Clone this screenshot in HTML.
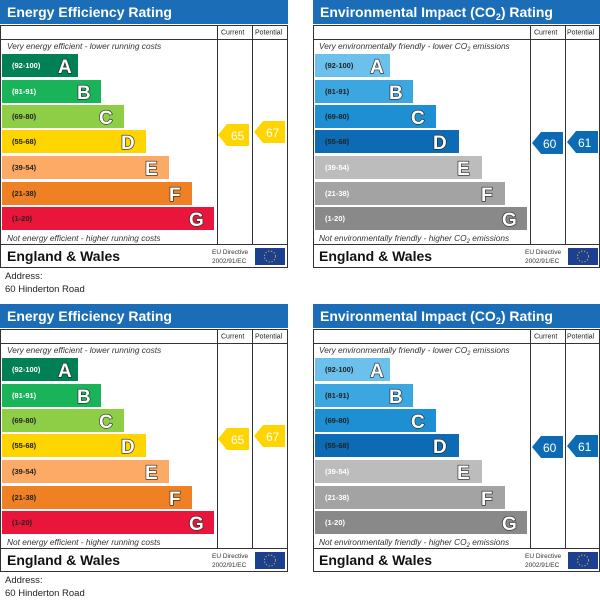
<!DOCTYPE html>
<html><head><meta charset="utf-8"><style>
html,body{margin:0;padding:0;background:#fff;width:600px;height:608px;overflow:hidden}
svg{display:block;font-family:"Liberation Sans",sans-serif}
.h{font-weight:bold;font-size:14px;fill:#fff}
.hc{font-size:7px;fill:#222}
.it{font-style:italic;font-size:8.3px;fill:#333}
.rg{font-size:7.5px;font-weight:bold;fill:#222}
.rgw{font-size:7.5px;font-weight:bold;fill:#fff}
.L{font-size:19px;font-weight:bold;fill:#fff;stroke:#222;stroke-width:1.2px;paint-order:stroke}
.ew{font-size:14px;font-weight:bold;fill:#111}
.eu{font-size:6.5px;fill:#333}
.ar{font-size:12px;fill:#fff}
.ad{font-size:9.5px;fill:#222}
</style></head><body>
<svg width="600" height="608" viewBox="0 0 600 608">
<g id="p1">
<rect x="0" y="0" width="288" height="24" fill="#1b6db7"/>
<text class="h" x="7" y="17">Energy Efficiency Rating</text>
<rect x="0.5" y="25.5" width="287" height="242" fill="none" stroke="#333"/>
<line x1="0" y1="39.5" x2="288" y2="39.5" stroke="#333"/>
<line x1="217.5" y1="25" x2="217.5" y2="244" stroke="#333"/>
<line x1="252.5" y1="25" x2="252.5" y2="244" stroke="#333"/>
<line x1="0" y1="244.5" x2="288" y2="244.5" stroke="#333"/>
<text class="hc" x="221" y="34.5">Current</text>
<text class="hc" x="255" y="34.5">Potential</text>
<text class="it" x="7" y="49">Very energy efficient - lower running costs</text>
<rect x="2" y="54" width="76" height="23" fill="#008054"/><text class="rgw" x="12" y="68">(92-100)</text><text class="L" x="58" y="73">A</text>
<rect x="2" y="80" width="99" height="23" fill="#19b459"/><text class="rgw" x="12" y="94">(81-91)</text><text class="L" x="77" y="99">B</text>
<rect x="2" y="105" width="122" height="23" fill="#8dce46"/><text class="rg" x="12" y="119">(69-80)</text><text class="L" x="99" y="124">C</text>
<rect x="2" y="130" width="144" height="23" fill="#ffd500"/><text class="rg" x="12" y="144">(55-68)</text><text class="L" x="121" y="149">D</text>
<rect x="2" y="156" width="167" height="23" fill="#fcaa65"/><text class="rg" x="12" y="170">(39-54)</text><text class="L" x="145" y="175">E</text>
<rect x="2" y="182" width="190" height="23" fill="#ef8023"/><text class="rg" x="12" y="196">(21-38)</text><text class="L" x="169" y="201">F</text>
<rect x="2" y="207" width="212" height="23" fill="#e9153b"/><text class="rg" x="12" y="221" fill="#900">(1-20)</text><text class="L" x="189" y="226">G</text>
<text class="it" x="7" y="241">Not energy efficient - higher running costs</text>
<polygon points="218,135 227,124 249,124 249,146 227,146" fill="#ffd500"/><text class="ar" x="231" y="140">65</text>
<polygon points="254,132 263,121 285,121 285,143 263,143" fill="#ffd500"/><text class="ar" x="266" y="137">67</text>
<text class="ew" x="7" y="261">England &amp; Wales</text>
<text class="eu" x="212" y="254">EU Directive</text><text class="eu" x="212" y="263">2002/91/EC</text>
<rect x="255" y="248" width="30" height="17" fill="#1d3f8f"/>
<circle cx="270" cy="256.5" r="5.5" fill="none" stroke="#ffd500" stroke-width="1" stroke-dasharray="1 2"/>
<text class="ad" x="5" y="279">Address:</text><text class="ad" x="5" y="292">60 Hinderton Road</text>
</g>
<g id="p2">
<rect x="313" y="0" width="287" height="24" fill="#1b6db7"/>
<text class="h" x="320" y="17">Environmental Impact (CO<tspan font-size="9" dy="3">2</tspan><tspan dy="-3">) Rating</tspan></text>
<rect x="313.5" y="25.5" width="286" height="242" fill="none" stroke="#333"/>
<line x1="313" y1="39.5" x2="600" y2="39.5" stroke="#333"/>
<line x1="530.5" y1="25" x2="530.5" y2="244" stroke="#333"/>
<line x1="565.5" y1="25" x2="565.5" y2="244" stroke="#333"/>
<line x1="313" y1="244.5" x2="600" y2="244.5" stroke="#333"/>
<text class="hc" x="534" y="34.5">Current</text>
<text class="hc" x="567" y="34.5">Potential</text>
<text class="it" x="319" y="49">Very environmentally friendly - lower CO<tspan font-size="6" dy="2">2</tspan><tspan dy="-2"> emissions</tspan></text>
<rect x="315" y="54" width="75" height="23" fill="#6cc0ec"/><text class="rg" x="325" y="68">(92-100)</text><text class="L" x="370" y="73">A</text>
<rect x="315" y="80" width="98" height="23" fill="#3ca6e0"/><text class="rg" x="325" y="94">(81-91)</text><text class="L" x="389" y="99">B</text>
<rect x="315" y="105" width="121" height="23" fill="#1d8fd2"/><text class="rg" x="325" y="119">(69-80)</text><text class="L" x="411" y="124">C</text>
<rect x="315" y="130" width="144" height="23" fill="#0d6bb4"/><text class="rg" x="325" y="144">(55-68)</text><text class="L" x="433" y="149">D</text>
<rect x="315" y="156" width="167" height="23" fill="#bcbcbc"/><text class="rgw" x="325" y="170">(39-54)</text><text class="L" x="457" y="175">E</text>
<rect x="315" y="182" width="190" height="23" fill="#a3a3a3"/><text class="rgw" x="325" y="196">(21-38)</text><text class="L" x="481" y="201">F</text>
<rect x="315" y="207" width="212" height="23" fill="#898989"/><text class="rgw" x="325" y="221">(1-20)</text><text class="L" x="502" y="226">G</text>
<text class="it" x="319" y="241">Not environmentally friendly - higher CO<tspan font-size="6" dy="2">2</tspan><tspan dy="-2"> emissions</tspan></text>
<polygon points="532,143 541,132 563,132 563,154 541,154" fill="#0d6bb4"/><text class="ar" x="543" y="148">60</text>
<polygon points="567,142 576,131 598,131 598,153 576,153" fill="#0d6bb4"/><text class="ar" x="578" y="147">61</text>
<text class="ew" x="319" y="261">England &amp; Wales</text>
<text class="eu" x="525" y="254">EU Directive</text><text class="eu" x="525" y="263">2002/91/EC</text>
<rect x="568" y="248" width="30" height="17" fill="#1d3f8f"/>
<circle cx="583" cy="256.5" r="5.5" fill="none" stroke="#ffd500" stroke-width="1" stroke-dasharray="1 2"/>
</g>
<g transform="translate(0,304)">
<rect x="0" y="0" width="288" height="24" fill="#1b6db7"/>
<text class="h" x="7" y="17">Energy Efficiency Rating</text>
<rect x="0.5" y="25.5" width="287" height="242" fill="none" stroke="#333"/>
<line x1="0" y1="39.5" x2="288" y2="39.5" stroke="#333"/>
<line x1="217.5" y1="25" x2="217.5" y2="244" stroke="#333"/>
<line x1="252.5" y1="25" x2="252.5" y2="244" stroke="#333"/>
<line x1="0" y1="244.5" x2="288" y2="244.5" stroke="#333"/>
<text class="hc" x="221" y="34.5">Current</text>
<text class="hc" x="255" y="34.5">Potential</text>
<text class="it" x="7" y="49">Very energy efficient - lower running costs</text>
<rect x="2" y="54" width="76" height="23" fill="#008054"/><text class="rgw" x="12" y="68">(92-100)</text><text class="L" x="58" y="73">A</text>
<rect x="2" y="80" width="99" height="23" fill="#19b459"/><text class="rgw" x="12" y="94">(81-91)</text><text class="L" x="77" y="99">B</text>
<rect x="2" y="105" width="122" height="23" fill="#8dce46"/><text class="rg" x="12" y="119">(69-80)</text><text class="L" x="99" y="124">C</text>
<rect x="2" y="130" width="144" height="23" fill="#ffd500"/><text class="rg" x="12" y="144">(55-68)</text><text class="L" x="121" y="149">D</text>
<rect x="2" y="156" width="167" height="23" fill="#fcaa65"/><text class="rg" x="12" y="170">(39-54)</text><text class="L" x="145" y="175">E</text>
<rect x="2" y="182" width="190" height="23" fill="#ef8023"/><text class="rg" x="12" y="196">(21-38)</text><text class="L" x="169" y="201">F</text>
<rect x="2" y="207" width="212" height="23" fill="#e9153b"/><text class="rg" x="12" y="221" fill="#900">(1-20)</text><text class="L" x="189" y="226">G</text>
<text class="it" x="7" y="241">Not energy efficient - higher running costs</text>
<polygon points="218,135 227,124 249,124 249,146 227,146" fill="#ffd500"/><text class="ar" x="231" y="140">65</text>
<polygon points="254,132 263,121 285,121 285,143 263,143" fill="#ffd500"/><text class="ar" x="266" y="137">67</text>
<text class="ew" x="7" y="261">England &amp; Wales</text>
<text class="eu" x="212" y="254">EU Directive</text><text class="eu" x="212" y="263">2002/91/EC</text>
<rect x="255" y="248" width="30" height="17" fill="#1d3f8f"/>
<circle cx="270" cy="256.5" r="5.5" fill="none" stroke="#ffd500" stroke-width="1" stroke-dasharray="1 2"/>
<text class="ad" x="5" y="279">Address:</text><text class="ad" x="5" y="292">60 Hinderton Road</text>
<rect x="313" y="0" width="287" height="24" fill="#1b6db7"/>
<text class="h" x="320" y="17">Environmental Impact (CO<tspan font-size="9" dy="3">2</tspan><tspan dy="-3">) Rating</tspan></text>
<rect x="313.5" y="25.5" width="286" height="242" fill="none" stroke="#333"/>
<line x1="313" y1="39.5" x2="600" y2="39.5" stroke="#333"/>
<line x1="530.5" y1="25" x2="530.5" y2="244" stroke="#333"/>
<line x1="565.5" y1="25" x2="565.5" y2="244" stroke="#333"/>
<line x1="313" y1="244.5" x2="600" y2="244.5" stroke="#333"/>
<text class="hc" x="534" y="34.5">Current</text>
<text class="hc" x="567" y="34.5">Potential</text>
<text class="it" x="319" y="49">Very environmentally friendly - lower CO<tspan font-size="6" dy="2">2</tspan><tspan dy="-2"> emissions</tspan></text>
<rect x="315" y="54" width="75" height="23" fill="#6cc0ec"/><text class="rg" x="325" y="68">(92-100)</text><text class="L" x="370" y="73">A</text>
<rect x="315" y="80" width="98" height="23" fill="#3ca6e0"/><text class="rg" x="325" y="94">(81-91)</text><text class="L" x="389" y="99">B</text>
<rect x="315" y="105" width="121" height="23" fill="#1d8fd2"/><text class="rg" x="325" y="119">(69-80)</text><text class="L" x="411" y="124">C</text>
<rect x="315" y="130" width="144" height="23" fill="#0d6bb4"/><text class="rg" x="325" y="144">(55-68)</text><text class="L" x="433" y="149">D</text>
<rect x="315" y="156" width="167" height="23" fill="#bcbcbc"/><text class="rgw" x="325" y="170">(39-54)</text><text class="L" x="457" y="175">E</text>
<rect x="315" y="182" width="190" height="23" fill="#a3a3a3"/><text class="rgw" x="325" y="196">(21-38)</text><text class="L" x="481" y="201">F</text>
<rect x="315" y="207" width="212" height="23" fill="#898989"/><text class="rgw" x="325" y="221">(1-20)</text><text class="L" x="502" y="226">G</text>
<text class="it" x="319" y="241">Not environmentally friendly - higher CO<tspan font-size="6" dy="2">2</tspan><tspan dy="-2"> emissions</tspan></text>
<polygon points="532,143 541,132 563,132 563,154 541,154" fill="#0d6bb4"/><text class="ar" x="543" y="148">60</text>
<polygon points="567,142 576,131 598,131 598,153 576,153" fill="#0d6bb4"/><text class="ar" x="578" y="147">61</text>
<text class="ew" x="319" y="261">England &amp; Wales</text>
<text class="eu" x="525" y="254">EU Directive</text><text class="eu" x="525" y="263">2002/91/EC</text>
<rect x="568" y="248" width="30" height="17" fill="#1d3f8f"/>
<circle cx="583" cy="256.5" r="5.5" fill="none" stroke="#ffd500" stroke-width="1" stroke-dasharray="1 2"/>
</g>
</svg>
</body></html>
